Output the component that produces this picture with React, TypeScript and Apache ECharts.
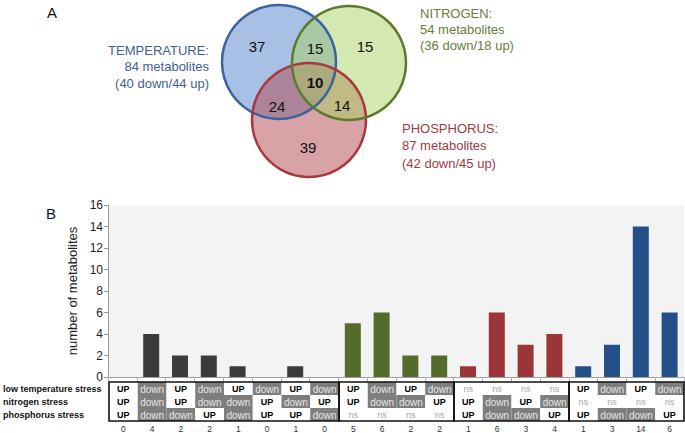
import React, { useEffect, useRef } from 'react';
import * as echarts from 'echarts';

// ---- Venn data (panel A) ----
const vennRegionLabels = ['37', '15', '15', '10', '24', '14', '39'];
const setNames = ['TEMPERATURE:', 'NITROGEN:', 'PHOSPHORUS:'];
const setTotals = [84, 54, 87];
const setDown = [40, 36, 42];
const setUp = [44, 18, 45];

// ---- Bar data (panel B) ----
const counts = [0, 4, 2, 2, 1, 0, 1, 0, 5, 6, 2, 2, 1, 6, 3, 4, 1, 3, 14, 6];
const rowLabels = ['low temperature stress', 'nitrogen stress', 'phosphorus stress'];
const tempRow = ['UP', 'down', 'UP', 'down', 'UP', 'down', 'UP', 'down', 'UP', 'down', 'UP', 'down', 'ns', 'ns', 'ns', 'ns', 'UP', 'down', 'UP', 'down'];
const nitroRow = ['UP', 'down', 'UP', 'down', 'down', 'UP', 'down', 'UP', 'UP', 'down', 'down', 'UP', 'UP', 'down', 'UP', 'down', 'ns', 'ns', 'ns', 'ns'];
const phosRow = ['UP', 'down', 'down', 'UP', 'down', 'UP', 'UP', 'down', 'ns', 'ns', 'ns', 'ns', 'UP', 'down', 'down', 'UP', 'UP', 'down', 'down', 'UP'];
const groupStarts = [0, 8, 12, 16];
const groupEnds = [7, 11, 15, 19];
const yTickMin = 0;
const yTickMax = 16;
const yTickStep = 2;

const groupColors = ['#3b3b3b', '#536c2a', '#9c3537', '#254f88'];
const FONT = '"Liberation Sans", Arial, Helvetica, sans-serif';

function groupOf(i: number) {
  for (let g = 0; g < groupStarts.length; g++) {
    if (i >= groupStarts[g] && i <= groupEnds[g]) return g;
  }
  return 0;
}

export default function App() {
  const ref = useRef<HTMLDivElement>(null);
  useEffect(() => {
    if (!ref.current) return;
    const chart = echarts.init(ref.current, undefined, { renderer: 'svg' });
    const columns = counts.map((_, i) => 'c' + i);
    const rows = [tempRow, nitroRow, phosRow];
    const cells: { x: number; y: number; t: string }[] = [];
    rows.forEach((r, ri) => r.forEach((t, ci) => cells.push({ x: ci, y: ri, t })));

    const blue = { cx: 279, cy: 62, r: 57 };
    const green = { cx: 349, cy: 63, r: 57 };
    const red = { cx: 309, cy: 120, r: 57 };

    const numPos = [
      [257, 46], [315, 48], [365, 46], [315, 82], [277, 106], [342, 105], [308, 147],
    ];

    const graphic: any[] = [
      { type: 'text', left: 47, top: 5, style: { text: 'A', fontSize: 15, fill: '#111', fontFamily: FONT } },
      { type: 'text', left: 46, top: 206, style: { text: 'B', fontSize: 15, fill: '#111', fontFamily: FONT } },
      { type: 'circle', shape: blue, style: { fill: 'rgba(80,130,200,0.5)' } },
      { type: 'circle', shape: red, style: { fill: 'rgba(180,70,80,0.5)' } },
      { type: 'circle', shape: green, style: { fill: 'rgba(170,210,100,0.5)' } },
      { type: 'circle', shape: blue, style: { fill: 'none', stroke: '#3b63a3', lineWidth: 2.5 } },
      { type: 'circle', shape: red, style: { fill: 'none', stroke: '#a7393e', lineWidth: 2.5 } },
      { type: 'circle', shape: green, style: { fill: 'none', stroke: '#5b7a2b', lineWidth: 2.5 } },
      ...vennRegionLabels.map((t, i) => ({
        type: 'text',
        style: {
          text: t, x: numPos[i][0], y: numPos[i][1], align: 'center', verticalAlign: 'middle',
          fontSize: 15, fontWeight: i === 3 ? 'bold' : 'normal', fill: '#111', fontFamily: FONT,
        },
      })),
      {
        type: 'text',
        style: {
          text: `${setNames[0]}\n${setTotals[0]} metabolites\n(${setDown[0]} down/${setUp[0]} up)`,
          x: 209, y: 42, align: 'right', verticalAlign: 'top', lineHeight: 16.5,
          fontSize: 13, fill: '#3e5f96', fontFamily: FONT,
        },
      },
      {
        type: 'text',
        style: {
          text: `${setNames[1]}\n${setTotals[1]} metabolites\n(${setDown[1]} down/${setUp[1]} up)`,
          x: 420, y: 5, align: 'left', verticalAlign: 'top', lineHeight: 16.2,
          fontSize: 13, fill: '#6a7d3b', fontFamily: FONT,
        },
      },
      {
        type: 'text',
        style: {
          text: `${setNames[2]}\n${setTotals[2]} metabolites\n(${setDown[2]} down/${setUp[2]} up)`,
          x: 402, y: 119.5, align: 'left', verticalAlign: 'top', lineHeight: 17.4,
          fontSize: 13, fill: '#a4393f', fontFamily: FONT,
        },
      },
    ];

    const option: any = {
      animation: false,
      textStyle: { fontFamily: FONT },
      grid: [
        { left: 108, width: 576, top: 205, height: 172, show: true, backgroundColor: '#f3f3f3', borderWidth: 0 },
        { left: 108, width: 576, top: 382, height: 39 },
      ],
      xAxis: [
        {
          gridIndex: 0, type: 'category', data: columns,
          axisLine: { lineStyle: { color: '#a0a0a0', width: 1 } },
          axisTick: { show: true, length: 5, lineStyle: { color: '#b0b0b0' } },
          axisLabel: { show: false },
        },
        {
          gridIndex: 1, type: 'category', data: counts.map(String), position: 'bottom',
          axisLine: { show: false }, axisTick: { show: false },
          axisLabel: { fontSize: 8.5, color: '#333', margin: 3, fontFamily: FONT },
        },
      ],
      yAxis: [
        {
          gridIndex: 0, type: 'value', min: yTickMin, max: yTickMax, interval: yTickStep,
          axisLine: { show: true, lineStyle: { color: '#999' } },
          axisTick: { show: true, length: 4, lineStyle: { color: '#999' } },
          splitLine: { show: false },
          axisLabel: { fontSize: 12, color: '#222', margin: 5, fontFamily: FONT },
          name: 'number of metabolites', nameLocation: 'middle', nameGap: 21,
          nameTextStyle: { fontSize: 13, color: '#222', fontFamily: FONT },
        },
        {
          gridIndex: 1, type: 'category', data: rowLabels, inverse: true,
          axisLine: { show: false }, axisTick: { show: false },
          axisLabel: { align: 'left', margin: 106, fontSize: 9, fontWeight: 'bold', color: '#111', fontFamily: FONT },
        },
      ],
      series: [
        {
          type: 'bar', xAxisIndex: 0, yAxisIndex: 0, barWidth: 16,
          data: counts.map((v, i) => ({ value: v, itemStyle: { color: groupColors[groupOf(i)] } })),
        },
        {
          type: 'custom', xAxisIndex: 1, yAxisIndex: 1,
          data: cells.map((c) => [c.x, c.y]),
          renderItem: (params: any, api: any) => {
            const c = cells[params.dataIndex];
            const p = api.coord([api.value(0), api.value(1)]);
            const s = api.size([1, 1]);
            const isDown = c.t === 'down';
            const isUp = c.t === 'UP';
            return {
              type: 'group',
              children: [
                {
                  type: 'rect',
                  shape: { x: p[0] - s[0] / 2, y: p[1] - s[1] / 2, width: s[0], height: s[1] },
                  style: { fill: isDown ? '#7e7e7e' : '#ffffff' },
                },
                {
                  type: 'text',
                  style: {
                    text: c.t, x: p[0], y: p[1] + 0.5, align: 'center', verticalAlign: 'middle',
                    fontSize: isDown ? 10 : 9, fontWeight: isUp ? 'bold' : 'normal',
                    fill: isDown ? '#e6e6e6' : isUp ? '#000' : '#a5a5a5', fontFamily: FONT,
                  },
                },
              ],
            };
          },
        },
        {
          type: 'custom', xAxisIndex: 1, yAxisIndex: 1,
          data: groupStarts.map((g, i) => [g, groupEnds[i]]),
          renderItem: (params: any, api: any) => {
            const a = api.coord([api.value(0), 0]);
            const b = api.coord([api.value(1), 2]);
            const s = api.size([1, 1]);
            return {
              type: 'rect',
              shape: { x: a[0] - s[0] / 2, y: a[1] - s[1] / 2, width: b[0] - a[0] + s[0], height: b[1] - a[1] + s[1] },
              style: { fill: 'none', stroke: '#111', lineWidth: 1.6 },
            };
          },
        },
      ],
      graphic,
    };
    chart.setOption(option);
    return () => chart.dispose();
  }, []);
  return <div ref={ref} style={{ position: 'fixed', left: 0, top: 0, width: 685, height: 433, background: '#fff' }} />;
}
